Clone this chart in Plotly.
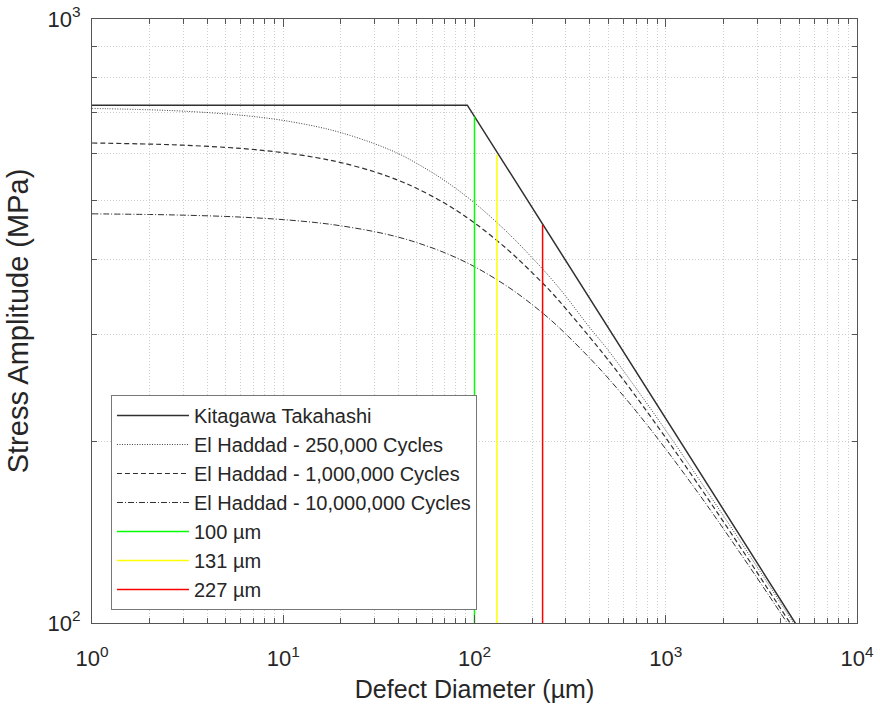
import plotly.graph_objects as go

# Defect diameters (µm) at which the El Haddad curves are sampled
diam_um = [1, 2, 3, 5, 7, 10, 15, 20, 30, 40, 50, 70, 100, 150, 200, 250, 300, 400,
           500, 700, 1000, 1500, 2000, 3000, 4000, 5000]

# El Haddad fatigue-limit curves (MPa)
stress_250k = [711.2, 707.4, 703.8, 696.5, 689.5, 679.3, 663.3, 648.5, 621.6, 598.6,
               576.4, 539.8, 496.1, 442.0, 402.5, 372.6, 347.5, 308.5,
               282.9, 244.6, 208.4, 172.6, 150.6, 123.9, 107.7, 96.5]
stress_1m = [623.3, 620.7, 618.1, 613.0, 608.0, 600.8, 589.3, 578.5, 558.5, 540.6,
             524.0, 495.2, 459.7, 414.4, 380.3, 354.0, 331.6, 297.5,
             272.6, 236.9, 202.6, 168.4, 147.2, 121.3, 105.5, 94.7]
stress_10m = [475.8, 474.6, 473.4, 471.1, 468.7, 465.4, 460.0, 454.6, 444.6, 435.3,
              426.3, 410.1, 389.0, 360.0, 336.7, 317.6, 301.0, 274.6,
              254.3, 224.2, 194.1, 163.1, 143.3, 118.8, 103.7, 93.2]

# Kitagawa-Takahashi bilinear limit
kt_diam = [1, 91.7, 5000]
kt_stress = [720, 720, 97.5]

# Measured defect sizes and the stress reached on each vertical marker
marker_diam = [100, 131, 227]
marker_top = [689, 596, 456]
marker_names = ["100 µm", "131 µm", "227 µm"]
marker_colors = ["#00ff00", "#ffff00", "#ff0000"]

# Axis tick labels
x_tickvals = [1, 10, 100, 1000, 10000]
x_ticktext = ["10<sup>0</sup>", "10<sup>1</sup>", "10<sup>2</sup>", "10<sup>3</sup>", "10<sup>4</sup>"]
y_tickvals = [100, 1000]
y_ticktext = ["10<sup>2</sup>", "10<sup>3</sup>"]

FONT = "Liberation Sans, Arial, Helvetica, sans-serif"
TXT = "#262626"

fig = go.Figure()

fig.add_trace(go.Scatter(x=kt_diam, y=kt_stress, mode="lines", name="Kitagawa Takahashi",
                         line=dict(color="#303030", width=1.5)))
fig.add_trace(go.Scatter(x=diam_um, y=stress_250k, mode="lines", name="El Haddad - 250,000 Cycles",
                         line=dict(color="#404040", width=1, dash="1px,1.5px", shape="spline")))
fig.add_trace(go.Scatter(x=diam_um, y=stress_1m, mode="lines", name="El Haddad - 1,000,000 Cycles",
                         line=dict(color="#303030", width=1.2, dash="5px,3px", shape="spline")))
fig.add_trace(go.Scatter(x=diam_um, y=stress_10m, mode="lines", name="El Haddad - 10,000,000 Cycles",
                         line=dict(color="#303030", width=1, dash="6px,2px,1px,2px", shape="spline")))

for d, top, name, color in zip(marker_diam, marker_top, marker_names, marker_colors):
    fig.add_trace(go.Scatter(x=[d, d], y=[100, top], mode="lines", name=name,
                             line=dict(color=color, width=1.5)))

minor_x = [m * 10 ** e for e in range(4) for m in range(2, 10)]
minor_y = [m * 100 for m in range(2, 10)]

grid = "#cfcfcf"
axis_common = dict(
    type="log", automargin=False,
    showline=True, linecolor="#555555", linewidth=1, mirror="allticks",
    ticks="inside", ticklen=8, tickcolor="#555555",
    showgrid=True, gridcolor=grid, griddash="1px,2px", gridwidth=1,
    zeroline=False,
    tickfont=dict(family=FONT, size=22, color=TXT),
)

fig.update_xaxes(
    **axis_common,
    range=[0, 4],
    tickmode="array", tickvals=x_tickvals, ticktext=x_ticktext,
    ticklabelstandoff=16,
    minor=dict(tickmode="array", tickvals=minor_x, ticks="inside", ticklen=5,
               tickcolor="#555555", showgrid=True, gridcolor=grid, griddash="1px,2px"),
    title=dict(text="Defect Diameter (µm)", font=dict(family=FONT, size=25, color=TXT), standoff=10),
)
fig.update_yaxes(
    **axis_common,
    range=[2, 3],
    tickmode="array", tickvals=y_tickvals, ticktext=y_ticktext,
    ticklabelstandoff=6,
    minor=dict(tickmode="array", tickvals=minor_y, ticks="inside", ticklen=5,
               tickcolor="#555555", showgrid=True, gridcolor=grid, griddash="1px,2px"),
    title=dict(text="Stress Amplitude (MPa)", font=dict(family=FONT, size=29, color=TXT), standoff=10),
)

fig.update_layout(
    width=880, height=707,
    margin=dict(l=92, r=23, t=19, b=84),
    plot_bgcolor="white", paper_bgcolor="white",
    font=dict(family=FONT, size=20, color=TXT),
    legend=dict(x=0.0248, y=0.3775, xanchor="left", yanchor="top",
                bgcolor="white", bordercolor="#777777", borderwidth=1,
                font=dict(family=FONT, size=20, color=TXT),
                itemwidth=72, tracegroupgap=0),
    showlegend=True,
)

fig.write_html("out.html")
